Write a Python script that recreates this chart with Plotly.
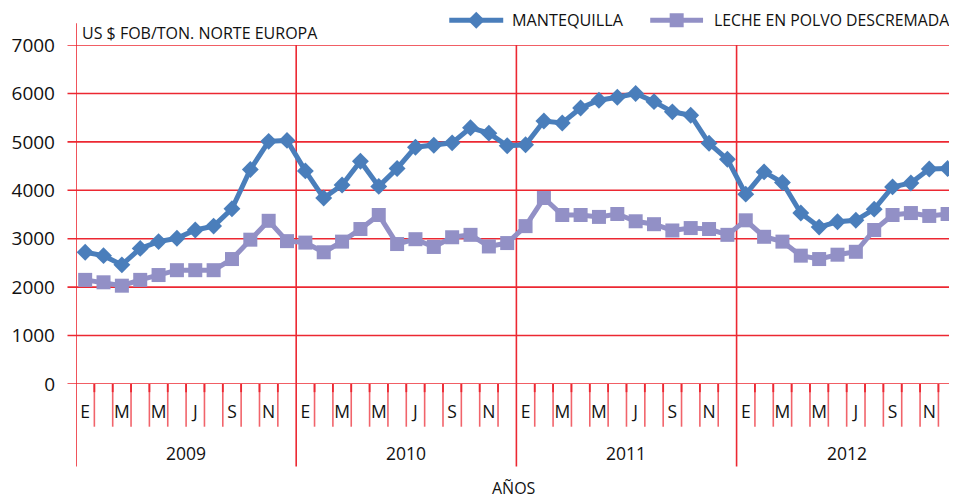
import plotly.graph_objects as go

years = ["2009", "2010", "2011", "2012"]
month_ticks = ["E", "M", "M", "J", "S", "N"]  # every other month, from January
y_ticks = [0, 1000, 2000, 3000, 4000, 5000, 6000, 7000]

mantequilla = [2720, 2650, 2460, 2800, 2940, 3010, 3180, 3260, 3620, 4430, 5010, 5030,
               4400, 3840, 4110, 4600, 4080, 4450, 4890, 4930, 4980, 5290, 5180, 4920,
               4940, 5430, 5390, 5700, 5860, 5920, 6000, 5830, 5620, 5550, 4970, 4640,
               3920, 4380, 4160, 3530, 3240, 3350, 3380, 3610, 4070, 4150, 4440, 4450]
leche = [2150, 2100, 2030, 2150, 2250, 2350, 2350, 2350, 2580, 2980, 3370, 2950,
         2920, 2720, 2940, 3200, 3490, 2890, 2990, 2830, 3030, 3080, 2840, 2910,
         3260, 3840, 3490, 3490, 3450, 3510, 3360, 3300, 3170, 3220, 3200, 3080,
         3380, 3040, 2940, 2650, 2580, 2670, 2730, 3180, 3490, 3530, 3470, 3510]

n = len(mantequilla)
x = list(range(n))
BLUE = "#4A7EBB"
LILAC = "#9290C6"
RED = "rgb(236,40,50)"
RED_L = "rgba(236,40,50,0.72)"
FONT = "Open Sans"
TXT = "#111"

fig = go.Figure()
fig.add_trace(go.Scatter(x=x, y=mantequilla, mode="lines+markers", name="MANTEQUILLA",
                         line=dict(color=BLUE, width=5), cliponaxis=False,
                         marker=dict(symbol="diamond", size=13, color=BLUE)))
fig.add_trace(go.Scatter(x=x, y=leche, mode="lines+markers", name="LECHE EN POLVO DESCREMADA",
                         line=dict(color=LILAC, width=5), cliponaxis=False,
                         marker=dict(symbol="square", size=14, color=LILAC)))

shapes = []
# horizontal gridlines
for v in y_ticks:
    shapes.append(dict(type="line", xref="paper", yref="y", x0=-0.0097, x1=1.006, y0=v, y1=v,
                       line=dict(color=RED, width=1.6), layer="below"))
# left axis
shapes.append(dict(type="line", xref="x", yref="paper", x0=-0.5, x1=-0.5, y0=-0.2436, y1=1.064,
                   line=dict(color=RED, width=1.6), layer="below"))
# year boundaries and month ticks
for k in range(1, n):
    xb = k - 0.5
    if k % 12 == 0:
        shapes.append(dict(type="line", xref="x", yref="paper", x0=xb, x1=xb, y0=-0.2436, y1=1.0,
                           line=dict(color=RED, width=1.6), layer="below"))
    else:
        shapes.append(dict(type="line", xref="x", yref="paper", x0=xb, x1=xb, y0=-0.126, y1=0,
                           line=dict(color=RED_L, width=1.6), layer="below"))
        shapes.append(dict(type="line", xref="x", yref="paper", x0=xb, x1=xb, y0=-0.024, y1=0,
                           line=dict(color=RED, width=1.8), layer="below"))
# right edge
shapes.append(dict(type="line", xref="paper", yref="paper", x0=1.0, x1=1.0, y0=-0.2465, y1=0.994,
                   line=dict(color=RED, width=1.6), layer="below"))

# custom legend
leg_y = 1.073
shapes.append(dict(type="line", xref="paper", yref="paper", x0=0.4261, x1=0.4877, y0=leg_y, y1=leg_y,
                   line=dict(color=BLUE, width=5)))
shapes.append(dict(type="path", xref="paper", yref="paper", xsizemode="pixel", ysizemode="pixel",
                   xanchor=0.4569, yanchor=leg_y, path="M -8.5 0 L 0 -8.5 L 8.5 0 L 0 8.5 Z",
                   fillcolor=BLUE, line=dict(width=0)))
shapes.append(dict(type="line", xref="paper", yref="paper", x0=0.6555, x1=0.7158, y0=leg_y, y1=leg_y,
                   line=dict(color=LILAC, width=5)))
shapes.append(dict(type="rect", xref="paper", yref="paper", xsizemode="pixel", ysizemode="pixel",
                   xanchor=0.6857, yanchor=leg_y, x0=-7, x1=7, y0=-7, y1=7,
                   fillcolor=LILAC, line=dict(width=0)))

annotations = []
annotations.append(dict(text="MANTEQUILLA", xref="paper", yref="paper", x=0.4957, y=leg_y,
                        xanchor="left", yanchor="middle", showarrow=False,
                        font=dict(family=FONT, size=16.2, color=TXT)))
annotations.append(dict(text="LECHE EN POLVO DESCREMADA", xref="paper", yref="paper", x=0.7262, y=leg_y,
                        xanchor="left", yanchor="middle", showarrow=False,
                        font=dict(family=FONT, size=15.8, color=TXT)))
annotations.append(dict(text="US $ FOB/TON. NORTE EUROPA", xref="paper", yref="paper", x=0.005, y=1.035,
                        xanchor="left", yanchor="middle", showarrow=False,
                        font=dict(family=FONT, size=16, color=TXT)))
for i, yr in enumerate(years):
    annotations.append(dict(text=yr, xref="x", yref="paper", x=i * 12 + 5.5, y=-0.205,
                            xanchor="center", yanchor="middle", showarrow=False,
                            font=dict(family=FONT, size=17.5, color=TXT)))
annotations.append(dict(text="AÑOS", xref="paper", yref="paper", x=0.5, y=-0.3054,
                        xanchor="center", yanchor="middle", showarrow=False,
                        font=dict(family=FONT, size=16, color=TXT)))

tickvals = [m for m in range(n) if m % 2 == 0]
ticktext = [month_ticks[(m % 12) // 2] for m in tickvals]

# the page body adds an 8px offset; margins compensate so the plot lands where the reference has it
fig.update_layout(
    width=957, height=499,
    margin=dict(l=67.5, r=13, t=36.8, b=122.7),
    paper_bgcolor="white", plot_bgcolor="white",
    showlegend=False,
    shapes=shapes, annotations=annotations,
    font=dict(family=FONT, color=TXT),
    xaxis=dict(range=[-0.5, 47.24], showgrid=False, zeroline=False, showline=False,
               automargin=False,
               tickvals=tickvals, ticktext=ticktext, ticks="", ticklabelstandoff=15,
               tickfont=dict(family=FONT, size=17.5, color=TXT), fixedrange=True),
    yaxis=dict(range=[0, 7000], tickvals=y_ticks, showgrid=False, zeroline=False, showline=False,
               automargin=False,
               ticks="", ticklabelstandoff=20,
               tickfont=dict(family=FONT, size=19, color=TXT), fixedrange=True),
)

fig.write_html("out.html")
